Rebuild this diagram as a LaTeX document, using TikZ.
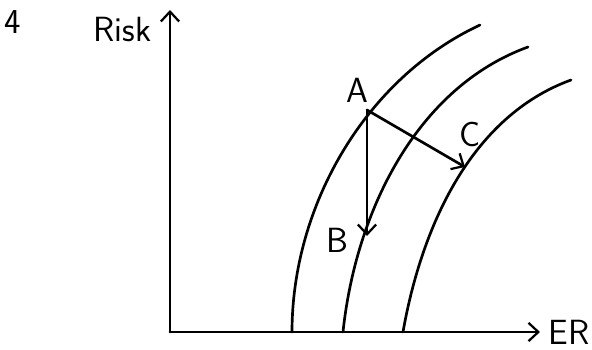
\documentclass[tikz,border=0pt]{standalone}
\usepackage{tikz}
\usetikzlibrary{arrows.meta}

\begin{document}
\begin{tikzpicture}[line width=1.9pt, line cap=round,
  lbl/.style={font=\sffamily\Huge, inner sep=1pt},
  barb/.style={-{Straight Barb[length=7pt,width=13pt,line width=1.6pt]}}]

\useasboundingbox (0,0) rectangle (14.8,8.75);

% ===== Axes =====
\coordinate (O) at (4.25,0.45);
\coordinate (Ytop) at (4.25,8.5);
\coordinate (Xend) at (13.5,0.45);
\draw[barb] (O) -- (Ytop);
\draw[barb] (O) -- (Xend);

\node[lbl] (num) at (0.33,8.2) {4};
\node[lbl, anchor=east] (risk) at (3.85,8.0) {Risk};
\node[lbl, anchor=west] (er) at (13.65,0.45) {ER};

% ===== Courbes =====
\draw (7.3,0.45) to[out=90, in=205, looseness=0.9] (12.0,8.125);
\draw (8.575,0.45) to[out=84, in=200, looseness=0.9] (13.2,7.575);
\draw (10.075,0.45) to[out=80, in=200, looseness=0.9] (14.275,6.75);

% ===== Points A, B, C =====
\coordinate (pA) at (9.175,6.0);
\coordinate (pB) at (9.175,2.85);
\coordinate (pC) at (11.625,4.575);

\draw[barb] (pA) -- (pB);
\draw[barb] (pA) -- (pC);

\node[lbl] (A) at (8.93,6.5) {A};
\node[lbl] (B) at (8.43,2.75) {B};
\node[lbl] (C) at (11.75,5.4) {C};

\end{tikzpicture}
\end{document}
